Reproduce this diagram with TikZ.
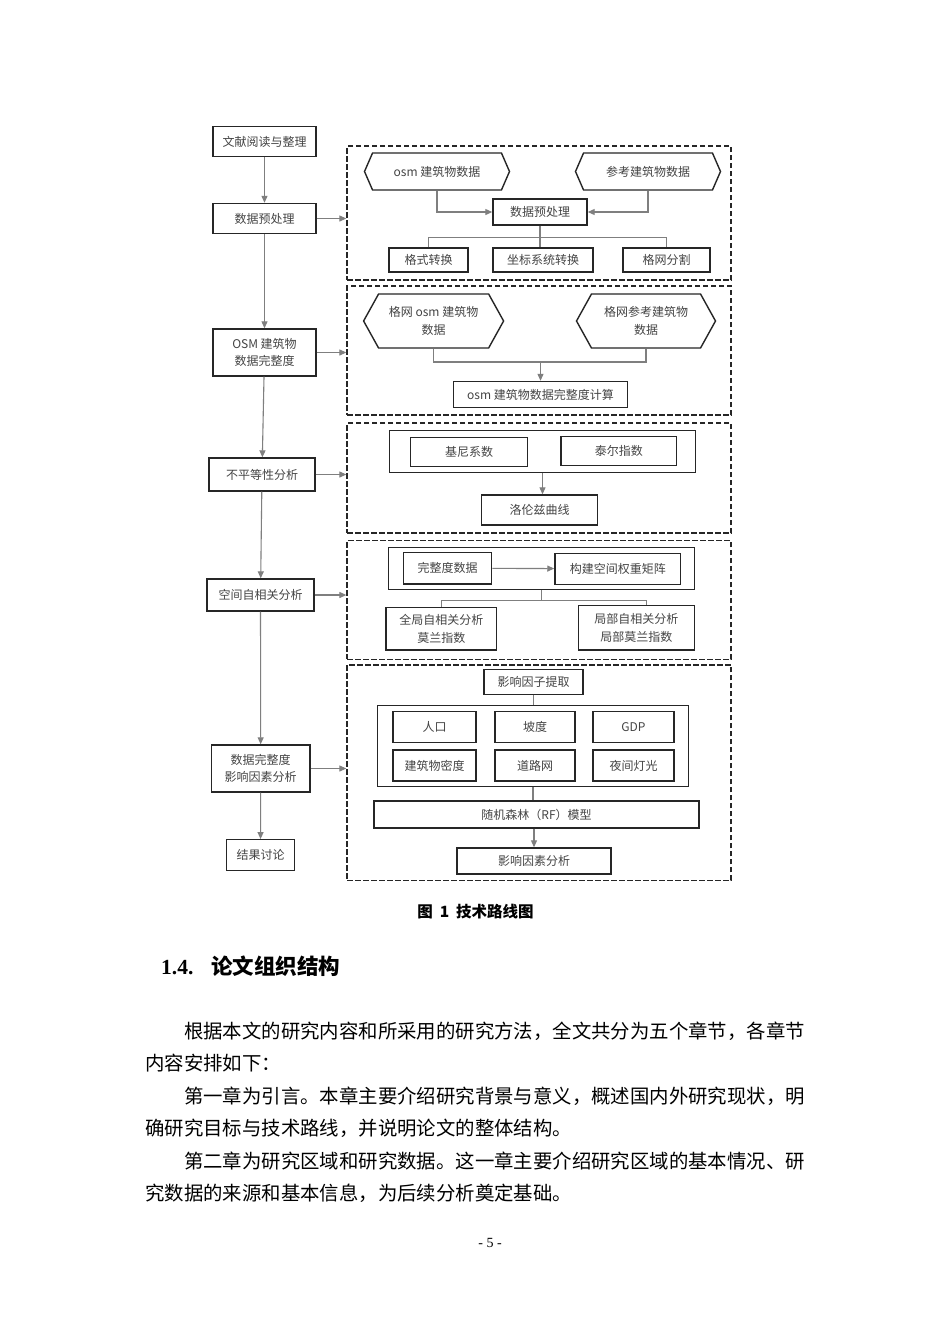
\documentclass[tikz,border=0pt]{standalone}
\usepackage{fontspec}
\setmainfont{Noto Sans CJK SC}
\newfontfamily\timesfont{Liberation Serif}
\usepackage{tikz}
\usetikzlibrary{arrows.meta, shapes.symbols, calc}
\definecolor{edge}{HTML}{7F7F7F}
\definecolor{ink}{HTML}{444444}
\definecolor{rim}{HTML}{262626}

\begin{document}
\begin{tikzpicture}[x=1pt, y=-1pt,
            box/.style={draw=rim, line width=1.4pt, inner sep=0pt, text=ink, align=center,
                font=\fontsize{12}{17.5}\selectfont},
            hex/.style={box, signal, signal to=west and east, signal pointer angle=#1},
            dashframe/.style={draw=rim, line width=1.3pt, dash pattern=on 5.5pt off 2.5pt, inner sep=0pt},
            link/.style={draw=edge, line width=1.1pt},
            arr/.style={link, -{Triangle[length=7pt, width=6pt]}},
            bodyline/.style={inner sep=0pt, anchor=west, font=\fontsize{19.4}{19.4}\selectfont}]
            \fill[white] (0,0) rectangle (950,1344);
            \useasboundingbox (0,0) rectangle (950,1344);

            \node[dashframe, minimum width=384, minimum height=134] (f1) at (539, 213) {};
            \node[dashframe, minimum width=384, minimum height=129] (f2) at (539, 350.5) {};
            \node[dashframe, minimum width=384, minimum height=110] (f3) at (539, 478) {};
            \node[dashframe, minimum width=384, minimum height=118.5] (f4) at (539, 600) {};
            \node[dashframe, minimum width=384, minimum height=215.5] (f5) at (539, 772.7) {};

            \node[box, minimum width=103, minimum height=30] (read) at (264.5, 141.6) {文献阅读与整理};
            \node[box, minimum width=103, minimum height=30] (prep) at (264.5, 218.5) {数据预处理};
            \node[box, minimum width=103, minimum height=47] (comp) at (264.5, 352.5) {OSM 建筑物\\数据完整度};
            \node[box, minimum width=106, minimum height=33] (ineq) at (262, 474.5) {不平等性分析};
            \node[box, minimum width=107, minimum height=32] (auto) at (260.5, 595) {空间自相关分析};
            \node[box, minimum width=98.5, minimum height=47] (infl) at (260.7, 768.5) {数据完整度\\影响因素分析};
            \node[box, minimum width=68, minimum height=30.5] (disc) at (260.5, 855) {结果讨论};

            \draw[arr] (read) -- (prep);
            \draw[arr] (prep) -- (comp);
            \draw[arr] (comp) -- (ineq);
            \draw[arr] (ineq) -- (auto);
            \draw[arr] (auto) -- (infl);
            \draw[arr] (infl) -- (disc);

            \draw[arr] (prep.east) -- (prep.east -| f1.west);
            \draw[arr] (comp.east) -- (comp.east -| f2.west);
            \draw[arr] (ineq.east) -- (ineq.east -| f3.west);
            \draw[arr] (auto.east) -- (auto.east -| f4.west);
            \draw[arr] (infl.east) -- (infl.east -| f5.west);

            \node[hex=133, minimum width=145, minimum height=37] (osm) at (437, 171.5) {osm 建筑物数据};
            \node[hex=133, minimum width=145, minimum height=37] (ref) at (648, 171.5) {参考建筑物数据};
            \node[box, minimum width=94, minimum height=26] (pre) at (540, 212) {数据预处理};
            \node[box, minimum width=79, minimum height=24] (fmt) at (428.5, 260) {格式转换};
            \node[box, minimum width=100, minimum height=24] (crs) at (543, 260) {坐标系统转换};
            \node[box, minimum width=87, minimum height=24] (grid) at (666.5, 260) {格网分割};

            \draw[arr] (osm.south) |- (pre.west);
            \draw[arr] (ref.south) |- (pre.east);
            \draw[link] (pre.south) -- ++(0,11.7) coordinate (b1);
            \draw[link] (fmt.north) |- (b1) -| (grid.north);
            \draw[link] (b1) -- (b1 |- crs.north);

            \node[hex=122, minimum width=140, minimum height=54] (gosm) at (433.6, 321) {格网 osm 建筑物\\数据};
            \node[hex=122, minimum width=139, minimum height=54] (gref) at (646, 321) {格网参考建筑物\\数据};
            \node[box, minimum width=174, minimum height=26] (calc) at (540.5, 394.5) {osm 建筑物数据完整度计算};
            \coordinate (b2) at (540.5, 362);

            \draw[link] (gosm.south) |- (b2) -| (gref.south);
            \draw[arr] (b2) -- (calc.north);

            \node[box, minimum width=306.4, minimum height=41.6] (pair) at (542.5, 451.5) {};
            \node[box, minimum width=117, minimum height=29.4] (gini) at (469.2, 452) {基尼系数};
            \node[box, minimum width=115.7, minimum height=29] (theil) at (618.8, 451.2) {泰尔指数};
            \node[box, minimum width=115.6, minimum height=30] (lorenz) at (539.5, 510) {洛伦兹曲线};

            \draw[arr] (pair.south) -- (pair.south |- lorenz.north);

            \node[box, minimum width=306, minimum height=41.6] (pair2) at (541.3, 568.5) {};
            \node[box, minimum width=88.4, minimum height=31.7] (cdata) at (447.5, 568.2) {完整度数据};
            \node[box, minimum width=125.7, minimum height=31] (wmat) at (617.8, 568.8) {构建空间权重矩阵};
            \node[box, minimum width=110.7, minimum height=42.7] (glob) at (441.3, 628.7) {全局自相关分析\\莫兰指数};
            \node[box, minimum width=116, minimum height=44.3] (loc) at (636.3, 627.8) {局部自相关分析\\局部莫兰指数};

            \draw[arr] (cdata) -- (wmat);
            \draw[link] (pair2.south) -- ++(0,10.5) coordinate (b4);
            \draw[link] (glob.north) |- (b4) -| ($(loc.north)+(10,0)$);

            \node[box, minimum width=99, minimum height=24.5] (pick) at (533.5, 682) {影响因子提取};
            \node[box, minimum width=310.6, minimum height=81] (facts) at (533, 746.2) {};
            \node[box, minimum width=83, minimum height=31] (pop) at (434.5, 727) {人口};
            \node[box, minimum width=80, minimum height=31] (slope) at (535, 727) {坡度};
            \node[box, minimum width=81, minimum height=31] (gdp) at (633.5, 727) {GDP};
            \node[box, minimum width=83, minimum height=31] (dens) at (434.5, 765.5) {建筑物密度};
            \node[box, minimum width=80, minimum height=31] (road) at (535, 765.5) {道路网};
            \node[box, minimum width=81, minimum height=31] (light) at (633.5, 765.5) {夜间灯光};
            \node[box, minimum width=325, minimum height=27] (rf) at (536.5, 814.5) {随机森林（RF）模型};
            \node[box, minimum width=154, minimum height=26] (res) at (534, 861) {影响因素分析};

            \draw[link] (pick) -- (pick |- facts.north);
            \draw[link] (facts.south) -- (facts.south |- rf.north);
            \draw[arr] (res.north |- rf.south) -- (res.north);

            \node[font=\fontsize{15.5}{15.5}\selectfont\bfseries] (cap) at (475.5, 911.5) {图\hspace{7pt}1\hspace{7pt}技术路线图};

            \node[inner sep=0pt, anchor=west, font=\fontsize{21.5}{21.5}\selectfont\bfseries] (head) at (161, 966)
                {{\timesfont 1.4.}\hspace{18pt}论文组织结构};

            \node[bodyline] (t1) at (183.8, 1031) {根据本文的研究内容和所采用的研究方法，全文共分为五个章节，各章节};
            \node[bodyline] (t2) at (145, 1063.4) {内容安排如下：};
            \node[bodyline] (t3) at (183.8, 1095.8) {第一章为引言。本章主要介绍研究背景与意义，概述国内外研究现状，明};
            \node[bodyline] (t4) at (145, 1128.2) {确研究目标与技术路线，并说明论文的整体结构。};
            \node[bodyline] (t5) at (183.8, 1160.6) {第二章为研究区域和研究数据。这一章主要介绍研究区域的基本情况、研};
            \node[bodyline] (t6) at (145, 1193) {究数据的来源和基本信息，为后续分析奠定基础。};

            \node[font=\timesfont\fontsize{14}{14}\selectfont] (page) at (490, 1243) {- 5 -};
        \end{tikzpicture}
\end{document}
